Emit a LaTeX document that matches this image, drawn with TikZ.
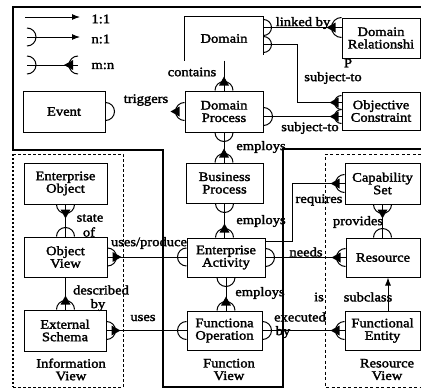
\documentclass[tikz,border=0pt]{standalone}
\usepackage{fontspec}
\setmainfont{Liberation Serif}[FakeStretch=1.12,FakeBold=2]
\usetikzlibrary{arrows.meta,calc}

% half circles on a box side (radius as optional argument), page y grows downward
\newcommand\semiR[2][9]{\draw[shift={(#2)}] (0,-#1) arc[start angle=90,end angle=-90,radius=#1pt];}
\newcommand\semiL[2][9]{\draw[shift={(#2)}] (0,-#1) arc[start angle=90,end angle=270,radius=#1pt];}
\newcommand\semiU[2][9]{\draw[shift={(#2)}] (-#1,0) arc[start angle=180,end angle=0,radius=#1pt];}
\newcommand\semiD[2][9]{\draw[shift={(#2)}] (-#1,0) arc[start angle=180,end angle=360,radius=#1pt];}
% crow's feet pointing away from the box
\newcommand\crowR[2][9]{\fill[shift={(#2)}] (#1+5,0) -- (#1-4,-5) -- (#1-4,5) -- cycle;}
\newcommand\crowL[2][9]{\fill[shift={(#2)}] (-#1-5,0) -- (-#1+4,-5) -- (-#1+4,5) -- cycle;}
\newcommand\crowU[2][9]{\fill[shift={(#2)}] (0,-#1-5) -- (-5,-#1+4) -- (5,-#1+4) -- cycle;}
\newcommand\crowD[2][9]{\fill[shift={(#2)}] (0,#1+5) -- (-5,#1-4) -- (5,#1-4) -- cycle;}
\newcommand\manyR[2][9]{\semiR[#1]{#2}\crowR[#1]{#2}}
\newcommand\manyL[2][9]{\semiL[#1]{#2}\crowL[#1]{#2}}
\newcommand\manyU[2][9]{\semiU[#1]{#2}\crowU[#1]{#2}}
\newcommand\manyD[2][9]{\semiD[#1]{#2}\crowD[#1]{#2}}

\begin{document}
\begin{tikzpicture}[x=1pt,y=-1pt,line width=1pt,
  every node/.style={font=\fontsize{13}{12.5}\selectfont},
  box/.style={draw,inner sep=0pt,align=center},
  lab/.style={inner sep=0pt,align=center},
  arr/.style={-{Latex[length=8pt,width=6pt]}}]
\useasboundingbox (0,0) rectangle (421,389);

% outer frame joined with the function view column
\draw[line width=1.1pt] (421,149) -- (283,149) -- (283,387) -- (163,387)
  -- (163,150) -- (13,150) -- (13,7) -- (421,7);
\draw[line width=2pt] (13,7) -- (13,150);
% information view
\draw[dash pattern=on 3pt off 2pt,line width=0.8pt] (13,154) -- (123,154) -- (123,387) -- (13,387);
\draw[line width=2.2pt,dash pattern=on 2pt off 2pt] (13,154) -- (13,387);
% resource view
\draw[dash pattern=on 3pt off 2.5pt,line width=0.9pt] (421,154) -- (325,154) -- (325,387) -- (421,387);

% legend
\coordinate (ka) at (25,17);
\coordinate (kb) at (80,17);
\draw[arr] (ka) -- (kb);
\node[lab,anchor=west] (k1) at (91,19) {1:1};
\coordinate (kc) at (27,37);
\coordinate (kd) at (80,37);
\semiR{kc}
\draw[arr] (kc) -- (kd);
\node[lab,anchor=west] (k2) at (91,39) {n:1};
\coordinate (ke) at (27,65);
\coordinate (kf) at (78,65);
\semiR{ke}
\draw (ke) -- (kf);
\manyL{kf}
\node[lab,anchor=west] (k3) at (91,66) {m:n};

% boxes
\node[box,draw=none,minimum width=78,minimum height=43] (domain) at (224,38.5) {Domain};
\draw (domain.south west) -- (domain.north west) -- (domain.north east) -- ++(0,38);
\node[box,minimum width=78,minimum height=40] (domrel) at (381,38) {Domain\\Relationshi};
\node[lab] (domrelp) at (348,63) {P};
\node[box,minimum width=78,minimum height=38] (objcon) at (381,111) {Objective\\Constraint};
\node[box,minimum width=82,minimum height=41] (event) at (64,111.5) {Event};
\node[box,minimum width=78,minimum height=41] (dproc) at (224,111.5) {Domain\\Process};
\node[box,minimum width=83,minimum height=41] (entobj) at (65.5,183.5) {Enterprise\\Object};
\node[box,minimum width=77,minimum height=40] (bproc) at (224.5,183) {Business\\Process};
\node[box,minimum width=75,minimum height=41] (capset) at (382.5,183.5) {Capability\\Set};
\node[box,minimum width=83,minimum height=40] (objview) at (65.5,257) {Object\\View};
\node[box,minimum width=78,minimum height=39] (eact) at (226,257.5) {Enterprise\\Activity};
\node[box,minimum width=74,minimum height=39] (resource) at (383,257.5) {Resource};
\node[box,minimum width=82,minimum height=41] (extsch) at (65,330.5) {External\\Schema};
\node[box,minimum width=75,minimum height=39] (funcop) at (224.5,330.5) {Functiona\\Operation};
\node[box,minimum width=75,minimum height=39] (funcent) at (382.5,330.5) {Functional\\Entity};

% view titles
\node[lab] (tinfo) at (71,369.5) {Information\\View};
\node[lab] (tfunc) at (229,369.5) {Function\\View};
\node[lab] (tres) at (387,369.5) {Resource\\View};

% contains
\draw (domain.south) -- (dproc.north);
\manyU{dproc.north}
\node[lab] (lcont) at (192,72) {contains};

% triggers
\semiR{event.east}
\manyL{dproc.west}
\node[lab] (ltrig) at (146,100) {triggers};

% linked by
\coordinate (dlk) at ($(domain.north east)+(0,11)$);
\draw (dlk) -- (dlk -| domrel.west);
\semiR[8]{dlk}
\manyL[10]{dlk -| domrel.west}
\node[lab] (llink) at (303,23) {linked by};

% subject-to (domain)
\coordinate (dsb) at ($(domain.north east)+(0,28)$);
\coordinate (oca) at ($(objcon.north west)+(0,11)$);
\draw (dsb) -- ++(34,0) |- (oca);
\semiR[8]{dsb}
\manyL[7]{oca}
\node[lab] (lsub1) at (333,78) {subject-to};

% subject-to (domain process)
\coordinate (dps) at ($(dproc.north east)+(0,26)$);
\draw (dps) -- (dps -| objcon.west);
\semiR{dps}
\manyL[7]{dps -| objcon.west}
\node[lab] (lsub2) at (310,128) {subject-to};

% employs chain
\draw (dproc.south) -- (dproc.south |- bproc.north);
\semiD{dproc.south}
\manyU{dproc.south |- bproc.north}
\node[lab] (lemp1) at (261,147) {employs};
\draw (bproc.south) -- (bproc.south |- eact.north);
\semiD{bproc.south}
\manyU{bproc.south |- eact.north}
\node[lab] (lemp2) at (261,221) {employs};
\draw (eact.south) -- (eact.south |- funcop.north);
\semiD{eact.south}
\manyU{eact.south |- funcop.north}
\node[lab] (lemp3) at (260,293) {employs};

% state of
\draw (entobj.south) -- (entobj.south |- objview.north);
\manyD{entobj.south}
\semiU{entobj.south |- objview.north}
\node[lab] (lstate) at (90,218) {state};
\node[lab] (lof) at (89,232) {of};

% described by
\draw (objview.south) -- (objview.south |- extsch.north);
\manyU{objview.south |- extsch.north}
\node[lab] (ldesc) at (101,290) {described};
\node[lab] (ldby) at (98,305) {by};

% uses/produce
\draw (objview.east) -- (objview.east -| eact.west);
\manyR{objview.east}
\semiL{objview.east -| eact.west}
\node[lab] (lusep) at (149,243) {uses/produce};

% uses
\draw (extsch.east) -- (extsch.east -| funcop.west);
\manyR{extsch.east}
\semiL{extsch.east -| funcop.west}
\node[lab] (luses) at (143,318) {uses};

% needs
\draw (eact.east) -- (eact.east -| resource.west);
\semiR{eact.east}
\manyL{eact.east -| resource.west}
\node[lab] (lneeds) at (306,252) {needs};

% requires
\coordinate (ear) at ($(eact.north east)+(0,4)$);
\draw (ear) -- ++(27,0) |- (capset.west);
\manyL{capset.west}
\node[lab] (lreq) at (319,200) {requires};

% provides
\draw (capset.south) -- (capset.south |- resource.north);
\manyD{capset.south}
\semiU{capset.south |- resource.north}
\node[lab] (lprov) at (358,222) {provides};

% subclass
\coordinate (fes) at ($(funcent.north)+(5.5,0)$);
\draw[arr] (fes) -- (fes |- resource.south);
\node[lab] (lsubc) at (368,297) {subclass};

% is executed by
\draw (funcop.east) -- (funcop.east -| funcent.west);
\semiR{funcop.east}
\manyL{funcop.east -| funcent.west}
\node[lab] (lis) at (319,297) {is};
\node[lab] (lexec) at (300,317) {executed};
\node[lab] (lexby) at (283,332) {by};
\end{tikzpicture}
\end{document}
